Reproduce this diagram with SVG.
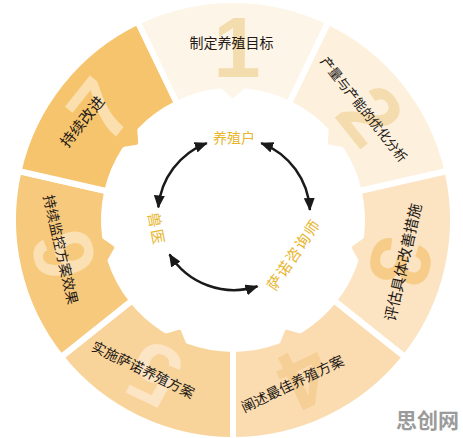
<svg xmlns="http://www.w3.org/2000/svg" xmlns:xlink="http://www.w3.org/1999/xlink" width="463" height="438" viewBox="0 0 463 438">
<style>
.seg{stroke:#fff;stroke-width:6;stroke-linejoin:round}
.num{font-family:"Liberation Sans",Arial,sans-serif;font-weight:bold;font-size:85px;text-anchor:middle;dominant-baseline:central}
.lbl{font-family:"Noto Sans CJK SC",sans-serif;font-size:14px;fill:#231815;text-anchor:middle;dominant-baseline:central}
.role{font-family:"Noto Sans CJK SC",sans-serif;font-size:14px;fill:#e8b52c;text-anchor:middle;dominant-baseline:central}
.arc{fill:none;stroke:#1a1a1a;stroke-width:2.5;marker-start:url(#ah);marker-end:url(#ah)}
</style>
<defs>
<path id="segshape" d="M 137.55 21.79 A 220 220 0 0 1 328.45 21.79 L 288.97 103.77 A 129 129 0 0 0 245.36 91.59 L 235.08 101.02 L 230.92 101.02 L 220.64 91.59 A 129 129 0 0 0 177.03 103.77 Z"/>
<marker id="ah" markerUnits="userSpaceOnUse" markerWidth="13" markerHeight="11" refX="12" refY="5.5" orient="auto-start-reverse" viewBox="0 0 13 11">
<path d="M0,0 L13,5.5 L0,11 Z" fill="#1a1a1a"/>
</marker>
</defs>
<rect width="463" height="438" fill="#fff"/>

<g id="step1">
<use xlink:href="#segshape" class="seg" fill="#fdf5e8"/>
<text class="num" x="237" y="47" fill="#f3dcae">1</text>
<text class="lbl" x="231.5" y="42">制定养殖目标</text>
</g>
<g id="step2">
<use xlink:href="#segshape" class="seg" fill="#fdf1de" transform="rotate(51.4286 233 220)"/>
<text class="num" x="237" y="47" fill="#f5dcae" transform="rotate(51.4286 233 220)">2</text>
<text class="lbl" x="364.5" y="109" style="font-size:13px" transform="rotate(51.43 364.5 109)">产量与产能的优化分析</text>
</g>
<g id="step3">
<use xlink:href="#segshape" class="seg" fill="#fce4c3" transform="rotate(102.857 233 220)"/>
<text class="num" x="237" y="47" fill="#f6cc88" transform="rotate(102.857 233 220)">3</text>
<text class="lbl" x="402" y="262" style="font-size:15px" transform="rotate(-77.14 402 262)">评估具体改善措施</text>
</g>
<g id="step4">
<use xlink:href="#segshape" class="seg" fill="#fbdcb0" transform="rotate(154.286 233 220)"/>
<text class="num" x="237" y="47" fill="#f6cf96" transform="rotate(154.286 233 220)">4</text>
<text class="lbl" x="292" y="383" transform="rotate(-25.71 292 383)">阐述最佳养殖方案</text>
</g>
<g id="step5">
<use xlink:href="#segshape" class="seg" fill="#f9d49a" transform="rotate(205.714 233 220)"/>
<text class="num" x="237" y="47" fill="#fce5c4" transform="rotate(205.714 233 220)">5</text>
<text class="lbl" x="143.5" y="369" transform="rotate(25.71 143.5 369)">实施萨诺养殖方案</text>
</g>
<g id="step6">
<use xlink:href="#segshape" class="seg" fill="#f7c97c" transform="rotate(257.143 233 220)"/>
<text class="num" x="237" y="47" fill="#fbe0b4" transform="rotate(257.143 233 220)">6</text>
<text class="lbl" x="61.5" y="249.5" transform="rotate(77.14 61.5 249.5)">持续监控方案效果</text>
</g>
<g id="step7">
<use xlink:href="#segshape" class="seg" fill="#f6c46c" transform="rotate(308.571 233 220)"/>
<text class="num" x="237" y="47" fill="#fbdfae" transform="rotate(308.571 233 220)">7</text>
<text class="lbl" x="81.5" y="121" style="font-size:15px" transform="rotate(-51.43 81.5 121)">持续改进</text>
</g>

<g id="farmer"><text class="role" x="234" y="137">养殖户</text></g>
<g id="consultant"><text class="role" x="293" y="254" style="font-size:15px;letter-spacing:1.5px" transform="rotate(-56 293 254)">萨诺咨询师</text></g>
<g id="vet"><text class="role" x="157.5" y="229" style="font-size:15px;letter-spacing:2px" transform="rotate(79 157.5 229)">兽医</text></g>

<g id="connectors">
<path class="arc" d="M 158.3 207.4 A 76 76 0 0 1 206.8 143.05"/>
<path class="arc" d="M 261.2 143.05 A 76 76 0 0 1 309.9 210.0"/>
<path class="arc" d="M 257.5 286.3 A 76 76 0 0 1 169.5 254.3"/>
</g>

<text x="396" y="428" style="font-family:'Noto Sans CJK SC',sans-serif;font-weight:bold;font-size:21px;fill:#9b9b9b">思创网</text>
</svg>
